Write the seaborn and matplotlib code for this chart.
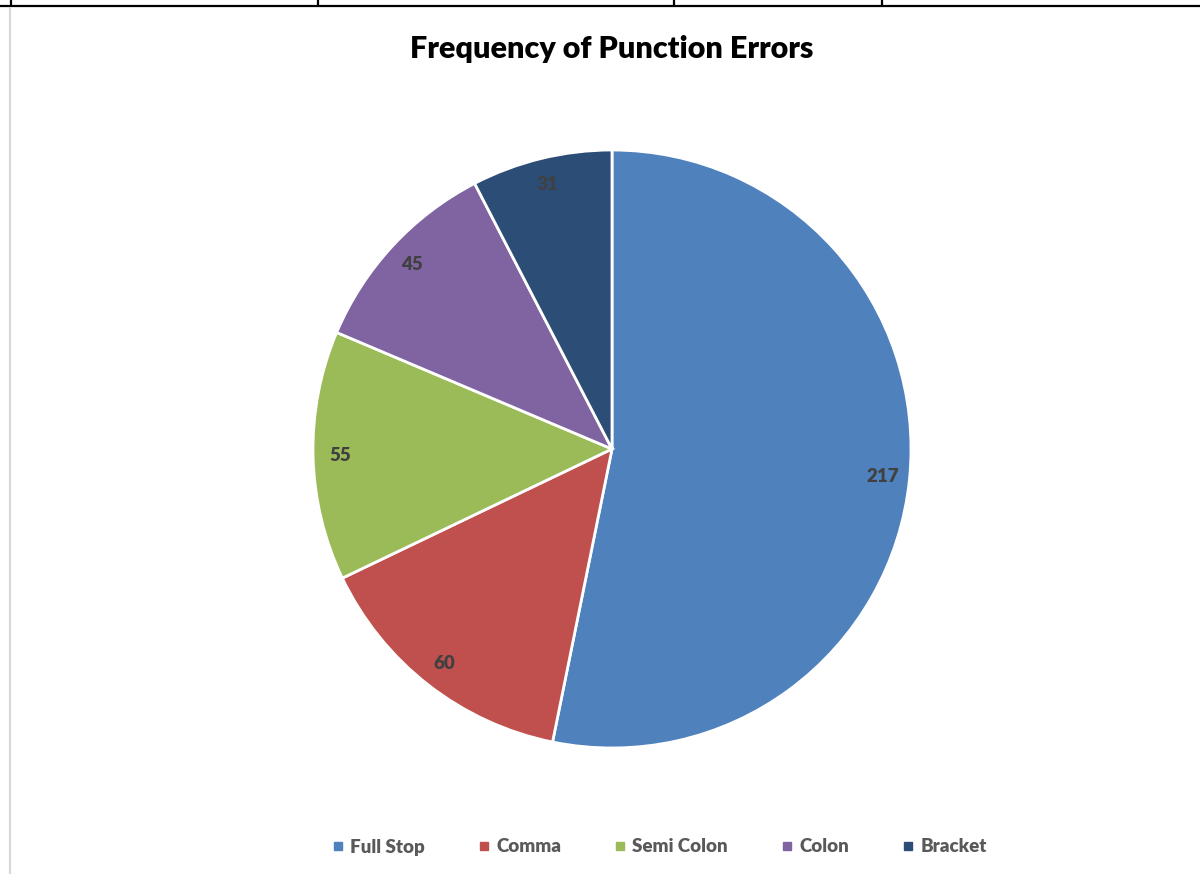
import matplotlib
matplotlib.use("Agg")
import matplotlib.pyplot as plt
from matplotlib.lines import Line2D
import seaborn as sns

# Data
categories = ["Full Stop", "Comma", "Semi Colon", "Colon", "Bracket"]
counts = [217, 60, 55, 45, 31]
colors = ["#4F81BD", "#C0504D", "#9BBB59", "#8064A2", "#2C4D75"]

sns.set_theme(style="white")
plt.rcParams["font.family"] = ["Lato", "DejaVu Sans"]

W, H = 1200, 874
fig = plt.figure(figsize=(W / 100, H / 100), dpi=100)

# pie axes: centre (612, 449) px, radius 299 px
cx, cy, r = 612, 449, 299
ax = fig.add_axes([(cx - r) / W, (H - cy - r) / H, 2 * r / W, 2 * r / H])

pal = sns.color_palette(colors)
wedges, texts = ax.pie(counts, colors=pal, startangle=90, counterclock=False,
                       radius=1, labels=[str(c) for c in counts],
                       labeldistance=0.91,
                       textprops=dict(color="#404040", fontsize=13.5,
                                      fontweight="heavy"),
                       wedgeprops=dict(edgecolor="white", linewidth=2))
for t in texts:
    t.set_ha("center")
    t.set_va("center")
ax.set_xlim(-1, 1)
ax.set_ylim(-1, 1)
ax.set_aspect("equal")
ax.axis("off")

fig.text(612 / W, 1 - 49 / H, "Frequency of Punction Errors", ha="center",
         va="center", fontsize=22, fontweight="heavy", color="black")

handles = [Line2D([], [], marker="s", linestyle="none", markersize=6,
                  markerfacecolor=c, markeredgecolor=c) for c in colors]
leg = fig.legend(handles, categories, loc="center", ncol=5, frameon=False,
                 bbox_to_anchor=(660 / W, 1 - 847 / H), handlelength=0.5,
                 handletextpad=0.4, columnspacing=2.9,
                 prop=dict(size=13.5, weight="heavy"))
for t in leg.get_texts():
    t.set_color("#595959")

# surrounding document lines (table above, chart border left)
fig.add_artist(Line2D([0, 1], [1 - 5.5 / H, 1 - 5.5 / H], color="black", lw=1.6))
for x in [11, 318, 674, 882]:
    fig.add_artist(Line2D([x / W, x / W], [1 - 5.5 / H, 1], color="black", lw=1.6))
fig.add_artist(Line2D([9.5 / W, 9.5 / W], [0, 1 - 8 / H], color="#d9d9d9", lw=1.6))

fig.savefig("out.png", dpi=100, facecolor="white")
